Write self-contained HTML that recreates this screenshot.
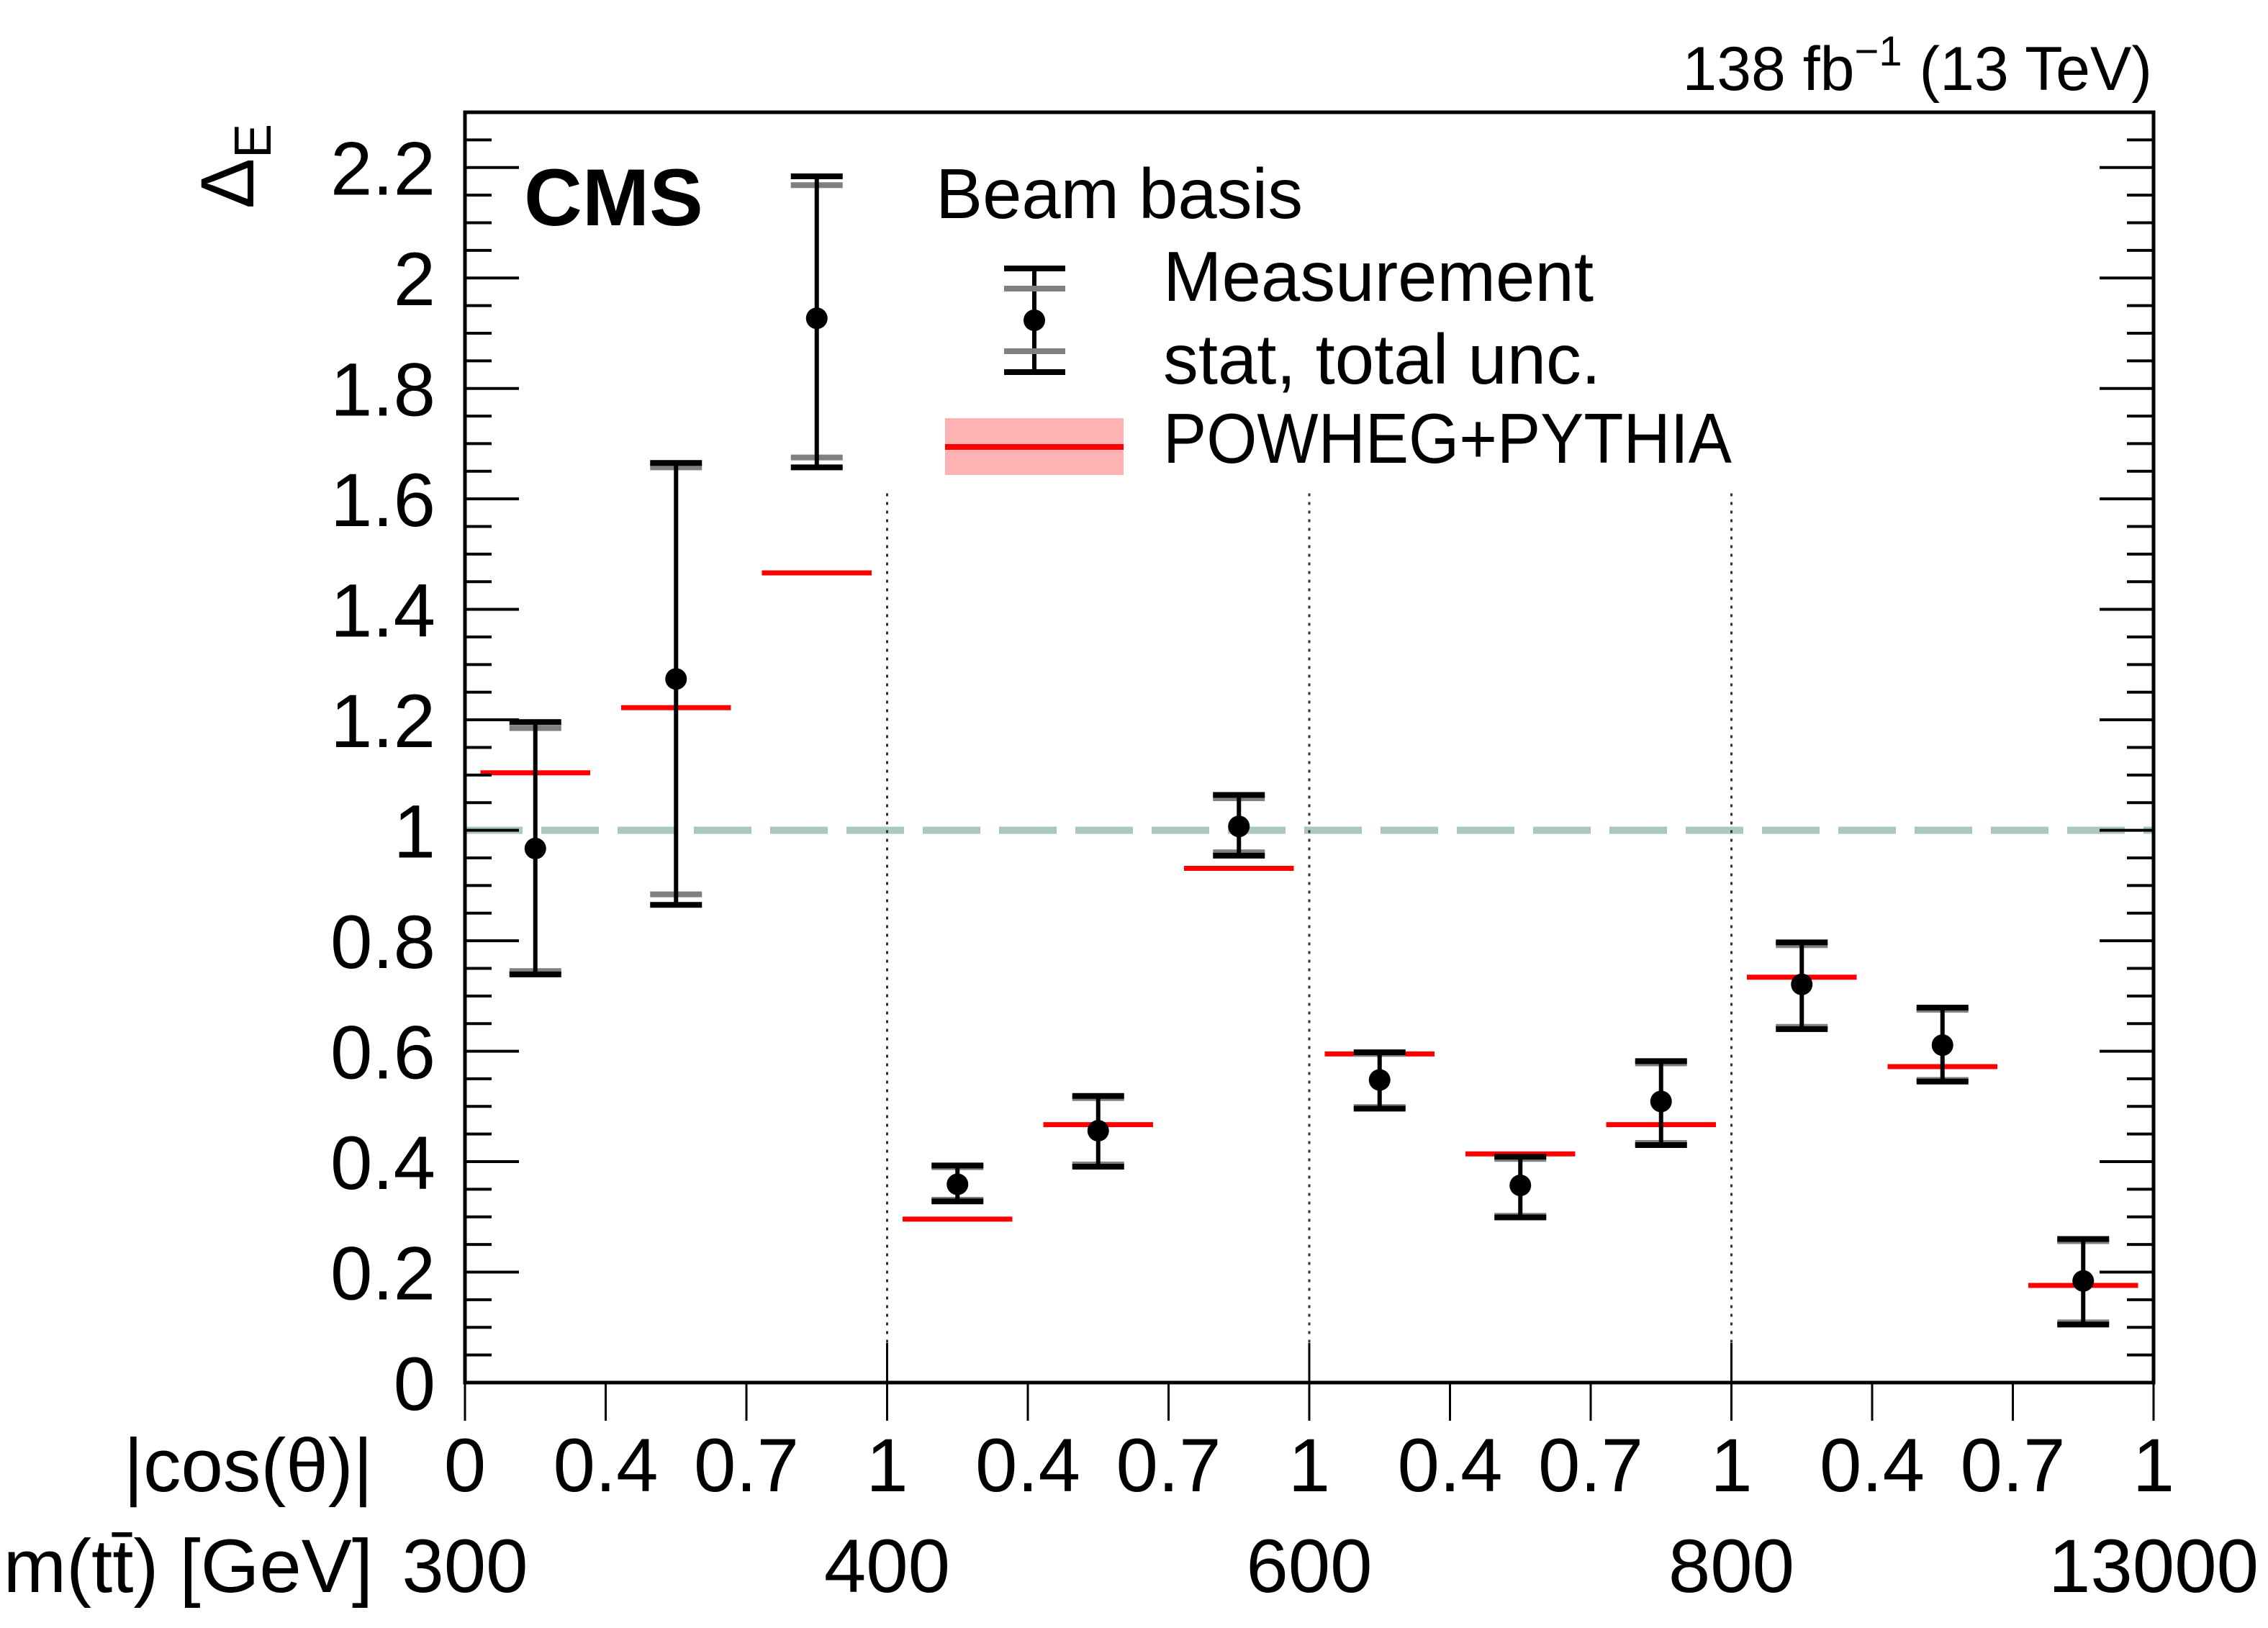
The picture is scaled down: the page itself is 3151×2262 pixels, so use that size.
<!DOCTYPE html>
<html><head><meta charset="utf-8"><style>
html,body{margin:0;padding:0;background:#fff;}
svg{display:block;font-family:"Liberation Sans",Arial,sans-serif;}
</style></head><body>
<svg id="chart" width="3151" height="2262" viewBox="0 0 3151 2262" xmlns="http://www.w3.org/2000/svg">
<rect x="0" y="0" width="3151" height="2262" fill="#fff"/>
<g id="marks"></g>
<g id="axes"></g>
<text x="2990" y="125" font-size="86" text-anchor="end">138 fb<tspan dy="-34" font-size="58">−1</tspan><tspan dy="34"> (13 TeV)</tspan></text>
<text x="728" y="313" font-size="112" font-weight="bold">CMS</text>
<text transform="translate(352,290) rotate(-90)" font-size="105">Δ<tspan dy="24" font-size="72">E</tspan></text>
<g>
<text x="1300" y="303" font-size="98" textLength="510" lengthAdjust="spacingAndGlyphs">Beam basis</text>
<line x1="1437" y1="373" x2="1437" y2="517" stroke="#000" stroke-width="6"/>
<line x1="1395" y1="401" x2="1480" y2="401" stroke="#808080" stroke-width="8"/>
<line x1="1395" y1="488" x2="1480" y2="488" stroke="#808080" stroke-width="8"/>
<line x1="1395" y1="373" x2="1480" y2="373" stroke="#000" stroke-width="8"/>
<line x1="1395" y1="517" x2="1480" y2="517" stroke="#000" stroke-width="8"/>
<ellipse cx="1437" cy="445" rx="15" ry="15" fill="#000"/>
<text x="1616" y="418" font-size="98" textLength="598" lengthAdjust="spacingAndGlyphs">Measurement</text>
<text x="1616" y="533" font-size="98" textLength="608" lengthAdjust="spacingAndGlyphs">stat, total unc.</text>
<rect x="1313" y="581" width="248" height="79" fill="#fdb3b3"/>
<line x1="1313" y1="621" x2="1561" y2="621" stroke="#ff0000" stroke-width="8"/>
<text x="1616" y="643" font-size="98" textLength="790" lengthAdjust="spacingAndGlyphs">POWHEG+PYTHIA</text>
</g>
</svg>
<script>
const values=[0.967,1.274,1.927,0.359,0.456,1.007,0.548,0.357,0.509,0.721,0.611,0.184];
const totUp=[1.196,1.665,2.184,0.393,0.519,1.064,0.598,0.409,0.582,0.797,0.679,0.260];
const totDn=[0.739,0.865,1.657,0.328,0.391,0.954,0.496,0.299,0.430,0.640,0.545,0.105];
const statUp=[1.185,1.657,2.168,0.390,0.515,1.058,0.595,0.405,0.578,0.792,0.675,0.256];
const statDn=[0.745,0.884,1.675,0.331,0.395,0.960,0.499,0.302,0.434,0.644,0.548,0.109];
const pred=[1.104,1.222,1.466,0.296,0.467,0.931,0.595,0.414,0.467,0.734,0.572,0.176];
const yTicks=[0,0.2,0.4,0.6,0.8,1,1.2,1.4,1.6,1.8,2,2.2];
const yTickLabels=["0","0.2","0.4","0.6","0.8","1","1.2","1.4","1.6","1.8","2","2.2"];
const cosLabels=["0","0.4","0.7","1","0.4","0.7","1","0.4","0.7","1","0.4","0.7","1"];
const massLabels=["300","400","600","800","13000"];

const NS="http://www.w3.org/2000/svg";
const L=646,R=2992,T=156,B=1921,YMAX=2.3;
const nb=values.length, bw=(R-L)/nb;
const xb=i=>L+bw*i;
const xc=i=>L+bw*(i+0.5);
const y=v=>B-(v/YMAX)*(B-T);
function mk(tag,attrs,parent){const e=document.createElementNS(NS,tag);for(const k in attrs)e.setAttribute(k,attrs[k]);parent.appendChild(e);return e;}
const marks=document.getElementById('marks'), axes=document.getElementById('axes');

const ref=mk('line',{x1:L,x2:R,y1:y(1),y2:y(1),stroke:'#a9c9bd','stroke-width':10,'stroke-dasharray':'80 26'},marks);


for(let s=1;s<4;s++){
  const d=mk('line',{x1:xb(3*s),x2:xb(3*s),y1:y(1.61),y2:B,stroke:'#333','stroke-width':3,'stroke-dasharray':'4 8'},marks);
  
  
}
for(let i=0;i<nb;i++){
  const g=mk('g',{},marks);
  
  
  const p=mk('line',{x1:xb(i)+bw*0.11,x2:xb(i+1)-bw*0.11,y1:y(pred[i]),y2:y(pred[i]),stroke:'#ff0000','stroke-width':7},g);
  
  
  const cx=xc(i), hw=36;
  mk('line',{x1:cx-hw,x2:cx+hw,y1:y(statUp[i]),y2:y(statUp[i]),stroke:'#808080','stroke-width':8},g);
  mk('line',{x1:cx-hw,x2:cx+hw,y1:y(statDn[i]),y2:y(statDn[i]),stroke:'#808080','stroke-width':8},g);
  mk('line',{x1:cx,x2:cx,y1:y(totUp[i]),y2:y(totDn[i]),stroke:'#000','stroke-width':6},g);
  mk('line',{x1:cx-hw,x2:cx+hw,y1:y(totUp[i]),y2:y(totUp[i]),stroke:'#000','stroke-width':8},g);
  mk('line',{x1:cx-hw,x2:cx+hw,y1:y(totDn[i]),y2:y(totDn[i]),stroke:'#000','stroke-width':8},g);
  const c=mk('circle',{cx:cx,cy:y(values[i]),r:15,fill:'#000'},g);
  
  
}
const fr=mk('rect',{x:L,y:T,width:R-L,height:B-T,fill:'none',stroke:'#000','stroke-width':5},axes);


for(let k=0;k<=46;k++){
  const v=k*0.05; const major=(k%4===0); const len=major?75:37;
  mk('line',{x1:L,x2:L+len,y1:y(v),y2:y(v),stroke:'#000','stroke-width':4},axes);
  mk('line',{x1:R,x2:R-len,y1:y(v),y2:y(v),stroke:'#000','stroke-width':4},axes);
}
yTicks.forEach((v,i)=>{
  const t=mk('text',{x:605,y:y(v)+38,'font-size':105,'text-anchor':'end'},axes);
  t.textContent=yTickLabels[i];
  
  
});
for(let i=0;i<=nb;i++){
  const x=xb(i);
  mk('line',{x1:x,x2:x,y1:B,y2:B+53,stroke:'#000','stroke-width':3},axes);
  if(i%3===0) mk('line',{x1:x,x2:x,y1:B,y2:B-55,stroke:'#000','stroke-width':3},axes);
  const t=mk('text',{x:x,y:2072,'font-size':105,'text-anchor':'middle'},axes);
  t.textContent=cosLabels[i];
  
  
}
massLabels.forEach((m,s)=>{
  const t=mk('text',{x:xb(3*s),y:2212,'font-size':105,'text-anchor':'middle'},axes);
  t.textContent=m;
  
  
});
const a1=mk('text',{x:518,y:2072,'font-size':105,'text-anchor':'end'},axes);
a1.textContent='|cos(θ)|';


const a2=mk('text',{x:518,y:2212,'font-size':105,'text-anchor':'end'},axes);
a2.textContent='m(tt̄) [GeV]';


</script>
</body></html>
